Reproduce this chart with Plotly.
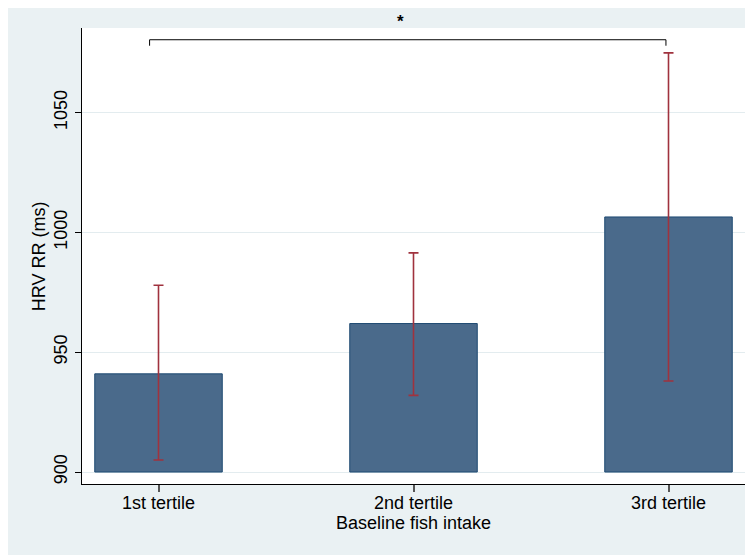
import plotly.graph_objects as go

categories = ["1st tertile", "2nd tertile", "3rd tertile"]
means = [941, 962, 1006.5]
ci_upper = [978, 991.5, 1075]
ci_lower = [905, 932, 938]
bar_base = 900

bracket_x = [-0.035, -0.035, 1.99, 1.99]
bracket_y = [1078, 1080.5, 1080.5, 1078]
star_label = "*"
star_x = 0.95

y_ticks = [900, 950, 1000, 1050]
y_title = "HRV RR (ms)"
x_title = "Baseline fish intake"

xpos = list(range(len(categories)))
heights = [m - bar_base for m in means]
err_plus = [u - m for u, m in zip(ci_upper, means)]
err_minus = [m - l for m, l in zip(means, ci_lower)]

FONT = "Liberation Sans, Arial, Helvetica, sans-serif"
OUTER = "#EAF1F3"

fig = go.Figure()
fig.add_trace(go.Bar(
    x=xpos, y=heights, base=bar_base, width=0.5,
    marker=dict(color="#4A6A8B", line=dict(color="#1E4A72", width=1)),
    error_y=dict(type="data", symmetric=False, array=err_plus, arrayminus=err_minus,
                 color="#A0323E", thickness=1.6, width=5),
    showlegend=False, hoverinfo="skip",
))
fig.add_trace(go.Scatter(
    x=bracket_x, y=bracket_y, mode="lines",
    line=dict(color="#000000", width=1), showlegend=False, hoverinfo="skip",
    cliponaxis=False,
))

fig.add_annotation(x=star_x, y=1.0135, xref="x", yref="paper",
                   text="<b>" + star_label + "</b>", showarrow=False,
                   font=dict(size=17, color="#000000", family=FONT),
                   yanchor="middle")

fig.add_annotation(x=-0.0645, y=0.5, xref="paper", yref="paper",
                   text=y_title, textangle=-90, showarrow=False,
                   font=dict(size=18, color="#000000", family=FONT),
                   xanchor="center", yanchor="middle")

# white plot area over the light paper background
fig.add_shape(type="rect", xref="paper", yref="paper", x0=0, x1=1, y0=0, y1=1,
              fillcolor="white", line=dict(width=0), layer="below")

fig.update_layout(
    width=753, height=555,
    margin=dict(l=74, r=16, t=20, b=79),
    paper_bgcolor=OUTER, plot_bgcolor="white",
    font=dict(family=FONT, size=18, color="#000000"),
)
fig.update_xaxes(
    range=[-0.3, 2.3], tickvals=xpos, ticktext=categories,
    showline=True, linecolor="#000000", linewidth=1,
    ticks="outside", ticklen=7, tickcolor="#555555", tickwidth=1.5,
    showgrid=False, zeroline=False,
    title=dict(text=x_title, standoff=4, font=dict(size=18)),
    tickfont=dict(size=18),
    ticklabelstandoff=-5,
)
fig.update_yaxes(
    range=[895, 1085.4], tickvals=y_ticks, tickangle=-90,
    showline=True, linecolor="#000000", linewidth=1,
    ticks="outside", ticklen=6, tickcolor="#000000", tickwidth=1,
    showgrid=True, gridcolor="#E3ECEF", gridwidth=1, zeroline=False,
    tickfont=dict(size=18),
    ticklabelstandoff=1,
)

fig.write_html("out.html")
